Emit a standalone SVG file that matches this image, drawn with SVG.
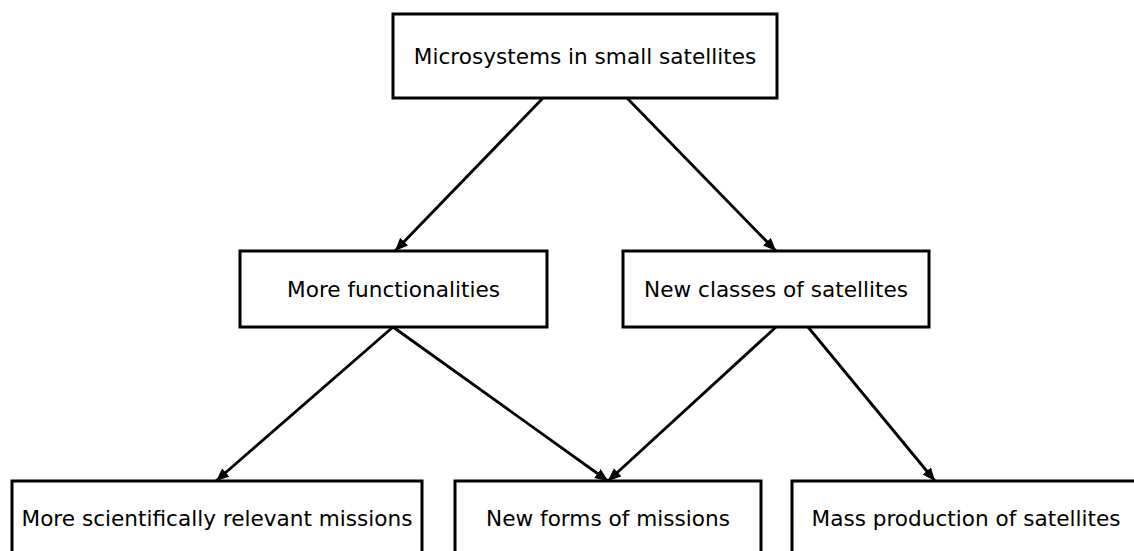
<svg xmlns="http://www.w3.org/2000/svg" width="1134" height="551" viewBox="0 0 1134 551">
  <defs>
    <marker id="arrow" viewBox="0 0 13 11" refX="13" refY="5.5" markerWidth="13" markerHeight="11" markerUnits="userSpaceOnUse" orient="auto">
      <path d="M0,0 L13,5.5 L0,11 Z" fill="#000"/>
    </marker>
    <style>
      .box { fill: #fff; stroke: #000; stroke-width: 3; }
      .label { font-family: "DejaVu Sans", "Liberation Sans", sans-serif; font-size: 21.6px; fill: #000; text-anchor: middle; }
      .edge { stroke: #000; stroke-width: 2.8; fill: none; marker-end: url(#arrow); }
    </style>
  </defs>
  <rect width="1134" height="551" fill="#fff"/>

  <g id="connectors">
    <line class="edge" x1="543" y1="98" x2="395" y2="251"/>
    <line class="edge" x1="627" y1="98" x2="776" y2="251"/>
    <line class="edge" x1="393" y1="327" x2="216" y2="481"/>
    <line class="edge" x1="393" y1="327" x2="608" y2="481"/>
    <line class="edge" x1="776" y1="327" x2="608" y2="481"/>
    <line class="edge" x1="808" y1="327" x2="935" y2="481"/>
  </g>

  <g id="microsystems">
    <rect class="box" x="393" y="14" width="384" height="84"/>
    <text class="label" x="585" y="63.5">Microsystems in small satellites</text>
  </g>

  <g id="more-functionalities">
    <rect class="box" x="240" y="251" width="307" height="76"/>
    <text class="label" x="393.5" y="297">More functionalities</text>
  </g>

  <g id="new-classes">
    <rect class="box" x="623" y="251" width="306" height="76"/>
    <text class="label" x="776" y="297">New classes of satellites</text>
  </g>

  <g id="scientific-missions">
    <rect class="box" x="12" y="481" width="410" height="76"/>
    <text class="label" x="217" y="526">More scientifically relevant missions</text>
  </g>

  <g id="new-forms">
    <rect class="box" x="455" y="481" width="306" height="76"/>
    <text class="label" x="608" y="526">New forms of missions</text>
  </g>

  <g id="mass-production">
    <rect class="box" x="792" y="481" width="348" height="76"/>
    <text class="label" x="966" y="526">Mass production of satellites</text>
  </g>
</svg>
